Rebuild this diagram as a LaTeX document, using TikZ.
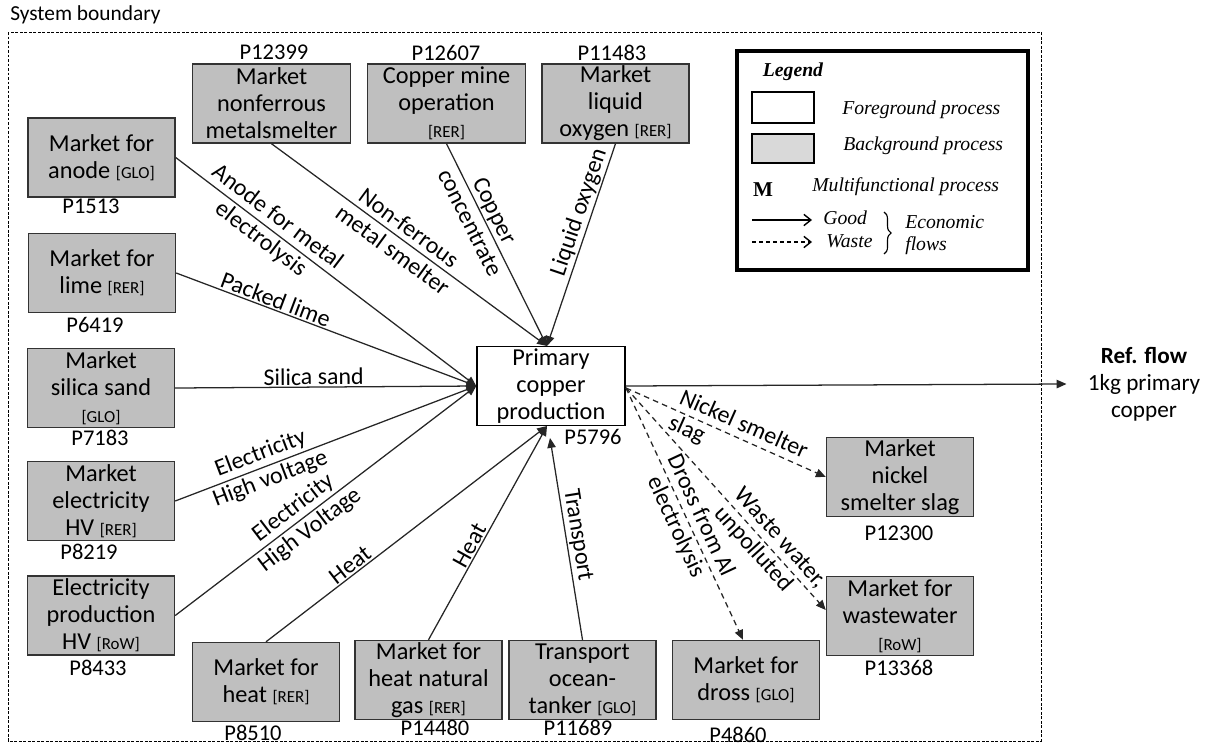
\documentclass[tikz,border=0pt]{standalone}
\usepackage{fontspec}
\setmainfont{Carlito}
\newfontfamily\legfont{Liberation Serif}
\usetikzlibrary{arrows.meta,decorations.pathreplacing}
\newcommand\regtag[1]{{\fontsize{12}{14}\selectfont #1}}

\begin{document}
\begin{tikzpicture}[x=0.025cm,y=-0.025cm]

    \tikzstyle{bgproc}+=[
        draw=black!80,
        line width=1pt,
        fill=black!25,
        minimum width=3.675cm,
        minimum height=1.975cm,
        inner sep=0pt,
        align=center,
        font={\fontsize{17.3}{19.2}\selectfont}
    ]
    \tikzstyle{fgproc}+=[
        bgproc,
        draw=black,
        fill=white,
        minimum width=3.7cm
    ]
    \tikzstyle{pnum}+=[
        inner sep=0pt,
        font={\fontsize{16}{18}\selectfont}
    ]
    \tikzstyle{good}+=[
        -{Triangle[length=7pt,width=6pt]},
        line width=0.9pt,
        draw=black!85
    ]
    \tikzstyle{waste}+=[
        good,
        dash pattern=on 4pt off 3pt
    ]
    \tikzstyle{flowlbl}+=[
        sloped,
        inner sep=1pt,
        align=center,
        font={\fontsize{17}{19.5}\selectfont}
    ]
    \tikzstyle{legtxt}+=[
        anchor=west,
        inner sep=0pt,
        font={\legfont\itshape\fontsize{14}{16}\selectfont}
    ]

    \useasboundingbox (0,0) rectangle (1210,744);

    % ----------------------------------------------------------------------------
    \draw[dash pattern=on 2pt off 1.2pt, line width=0.6pt] (8,32) rectangle (1041,741);
    \node[anchor=west, inner sep=0pt, font={\fontsize{15.2}{17}\selectfont}] (sysbound) at (10,15) {System boundary};

    % ----------------------------------------------------------------------------
    \node[fgproc] (primary) at (551,386) {Primary\\copper\\production};

    \node[bgproc] (anode) at (101.5,157.5) {Market for\\anode \regtag{[GLO]}};
    \node[bgproc] (lime) at (102,273) {Market for\\lime \regtag{[RER]}};
    \node[bgproc] (silica) at (101,388) {Market\\silica sand\\\regtag{[GLO]}};
    \node[bgproc] (elechv) at (101,501) {Market\\electricity\\HV \regtag{[RER]}};
    \node[bgproc] (elecprod) at (101,615.5) {Electricity\\production\\HV \regtag{[RoW]}};

    \node[bgproc,minimum width=3.95cm] (nonferrous) at (271.5,103.5) {Market\\nonferrous\\metalsmelter};
    \node[bgproc,minimum width=3.95cm] (coppermine) at (446.5,103.5) {Copper mine\\operation\\\regtag{[RER]}};
    \node[bgproc] (oxygen) at (615.5,103.5) {Market\\liquid\\oxygen \regtag{[RER]}};

    \node[bgproc] (heat) at (266,682) {Market for\\heat \regtag{[RER]}};
    \node[bgproc] (heatgas) at (428.5,680) {Market for\\heat natural\\gas \regtag{[RER]}};
    \node[bgproc] (transport) at (582.5,680) {Transport\\ocean-\\tanker \regtag{[GLO]}};
    \node[bgproc] (dross) at (746,680) {Market for\\dross \regtag{[GLO]}};

    \node[bgproc] (nickel) at (900,477) {Market\\nickel\\smelter slag};
    \node[bgproc] (wastewater) at (900,616) {Market for\\wastewater\\\regtag{[RoW]}};

    % ----------------------------------------------------------------------------
    \node[pnum] (p5796) at (593,437) {P5796};
    \node[pnum] (p1513) at (91,206) {P1513};
    \node[pnum] (p6419) at (95,325) {P6419};
    \node[pnum] (p7183) at (100,438) {P7183};
    \node[pnum] (p8219) at (89,552) {P8219};
    \node[pnum] (p8433) at (98,668) {P8433};
    \node[pnum] (p12399) at (274,52) {P12399};
    \node[pnum] (p12607) at (446,53) {P12607};
    \node[pnum] (p11483) at (612,53) {P11483};
    \node[pnum] (p8510) at (253,733) {P8510};
    \node[pnum] (p14480) at (435,728) {P14480};
    \node[pnum] (p11689) at (578,728) {P11689};
    \node[pnum] (p4860) at (738,735) {P4860};
    \node[pnum] (p12300) at (899,533) {P12300};
    \node[pnum] (p13368) at (899,668) {P13368};

    % ----------------------------------------------------------------------------
    \coordinate (topin) at (547,346);
    \coordinate (botin) at (547,426);
    \coordinate (trin) at (550,438);
    \coordinate (wasteout) at (626,388);

    \draw[good] (anode.east) -- node[flowlbl, pos=0.31] (lbanode) {Anode for metal\\electrolysis} (primary.west);
    \draw[good] (lime.east) -- node[flowlbl, above, pos=0.32] (lblime) {Packed lime} (primary.west);
    \draw[good] (silica.east) -- node[flowlbl, above, pos=0.46] (lbsilica) {Silica sand} (primary.west);
    \draw[good] (elechv.east) -- node[flowlbl, pos=0.30] (lbelechv) {Electricity\\High voltage} (primary.west);
    \draw[good] (elecprod.east) -- node[flowlbl, pos=0.42] (lbelecprod) {Electricity\\High Voltage} (primary.west);

    \draw[good] (nonferrous.south) -- node[flowlbl, pos=0.47] (lbnonferrous) {Non-ferrous\\metal smelter} (topin);
    \draw[good] (coppermine.south) -- node[flowlbl, pos=0.36] (lbcopper) {Copper\\concentrate} (topin);
    \draw[good] (oxygen.south) -- node[flowlbl, above, pos=0.36] (lboxygen) {Liquid oxygen} (topin);

    \draw[good] (heat.north) -- node[flowlbl, above, pos=0.32] (lbheat) {Heat} (botin);
    \draw[good] (heatgas.north) -- node[flowlbl, above, pos=0.42] (lbheatgas) {Heat} (botin);
    \draw[good] (transport.north) -- node[flowlbl, above, pos=0.51] (lbtransport) {Transport} (trin);

    % ----------------------------------------------------------------------------
    \draw[waste] (wasteout) -- node[flowlbl, align=left, pos=0.56] (lbnickel) {Nickel smelter\\slag} (nickel.west);
    \draw[waste] (wasteout) -- node[flowlbl, align=left, pos=0.72] (lbwaste) {Waste water,\\unpolluted} ([yshift=0.15cm]wastewater.west);
    \draw[waste] (wasteout) -- node[flowlbl, pos=0.53] (lbdross) {Dross from Al\\electrolysis} ([xshift=-0.075cm]dross.north);

    % ----------------------------------------------------------------------------
    \node[align=center, inner sep=0pt, font={\fontsize{16.5}{19.2}\selectfont}] (reflow) at (1144,384) {\textbf{Ref. flow}\\1kg primary\\copper};
    \draw[good] (primary.east) -- ([xshift=-0.525cm]reflow.west);

    % ----------------------------------------------------------------------------
    \draw[line width=2.8pt] (737,51) rectangle (1028,270);
    \node[inner sep=0pt, font={\legfont\bfseries\itshape\fontsize{14}{16}\selectfont}] (legtitle) at (793,72) {Legend};
    \node[draw=black, line width=1pt, fill=white, minimum width=1.55cm, minimum height=0.775cm] (legfg) at (783,107.5) {};
    \node[draw=black, line width=1pt, fill=black!15, minimum width=1.55cm, minimum height=0.725cm] (legbg) at (783,148.5) {};
    \node[legtxt] (legfgtxt) at (842,110) {Foreground process};
    \node[legtxt] (legbgtxt) at (843,146) {Background process};
    \node[inner sep=0pt, font={\legfont\bfseries\fontsize{15}{17}\selectfont}] (legm) at (763,190) {M};
    \node[legtxt] (legmtxt) at (812,187) {Multifunctional process};

    \coordinate (goodst) at (752,220);
    \coordinate (goodend) at (812,220);
    \coordinate (wastest) at (752,242);
    \coordinate (wasteend) at (812,242);
    \draw[-{Straight Barb[length=5pt,width=8pt]}, line width=1pt] (goodst) -- (goodend);
    \draw[-{Straight Barb[length=5pt,width=8pt]}, line width=1pt, dash pattern=on 3pt off 2pt] (wastest) -- (wasteend);
    \node[legtxt] (leggood) at (823,218) {Good};
    \node[legtxt] (legwaste) at (826,241) {Waste};
    \draw[decorate, decoration={brace, amplitude=5pt}, line width=0.8pt] (884,212) -- (884,254);
    \node[legtxt] (legecon) at (905,222) {Economic};
    \node[legtxt] (legflows) at (905,246) {flows};

\end{tikzpicture}
\end{document}
